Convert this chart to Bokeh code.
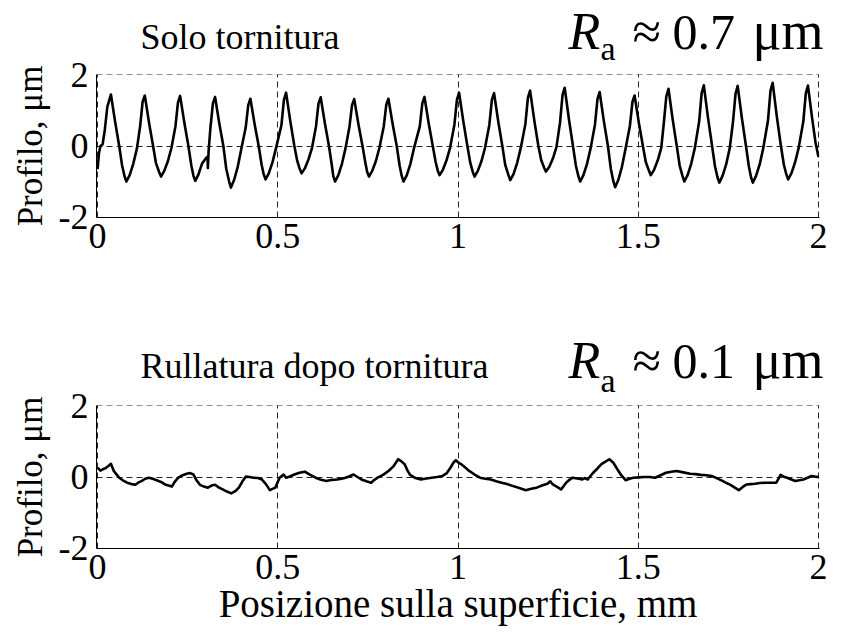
from bokeh.plotting import figure
from bokeh.layouts import column
from bokeh.models import Range1d, FixedTicker
from bokeh.core.properties import value
from bokeh.embed import file_html
from bokeh.resources import INLINE

# ---------------- data ----------------
x_ticks = [0, 0.5, 1, 1.5, 2]
x_tick_labels = ["0", "0.5", "1", "1.5", "2"]
y_ticks = [-2, 0, 2]
y_tick_labels = ["-2", "0", "2"]

titles = ["Solo tornitura", "Rullatura dopo tornitura"]
ra_values = ["0.7", "0.1"]
y_label = "Profilo, μm"
x_label = "Posizione sulla superficie, mm"

# profile after turning only (mm, um)
turn_x = [0.000, 0.004, 0.008, 0.014, 0.020, 0.027, 0.037,
          0.049, 0.060, 0.068, 0.075, 0.080, 0.089, 0.099, 0.109, 0.118, 0.125, 0.131,
          0.143, 0.154, 0.162, 0.171, 0.176, 0.185, 0.195, 0.205, 0.216, 0.223, 0.229,
          0.241, 0.252, 0.260, 0.266, 0.271, 0.280, 0.290, 0.300, 0.305, 0.306, 0.308, 0.313, 0.320, 0.326,
          0.338, 0.349, 0.357, 0.365, 0.370, 0.379, 0.389, 0.399, 0.411, 0.418, 0.424,
          0.436, 0.447, 0.455, 0.461, 0.466, 0.475, 0.485, 0.495, 0.510, 0.517, 0.523,
          0.535, 0.546, 0.554, 0.561, 0.566, 0.575, 0.585, 0.595, 0.606, 0.613, 0.619,
          0.631, 0.642, 0.650, 0.654, 0.659, 0.668, 0.678, 0.688, 0.699, 0.706, 0.712,
          0.724, 0.735, 0.743, 0.748, 0.753, 0.762, 0.772, 0.782, 0.794, 0.801, 0.807,
          0.819, 0.830, 0.838, 0.844, 0.849, 0.858, 0.868, 0.878, 0.894, 0.901, 0.907,
          0.919, 0.930, 0.938, 0.944, 0.949, 0.958, 0.968, 0.978, 0.990, 0.997, 1.003,
          1.015, 1.026, 1.034, 1.041, 1.046, 1.055, 1.065, 1.075, 1.087, 1.094, 1.100,
          1.112, 1.123, 1.131, 1.140, 1.145, 1.154, 1.164, 1.174, 1.187, 1.194, 1.200,
          1.212, 1.223, 1.231, 1.239, 1.244, 1.253, 1.263, 1.273, 1.283, 1.290, 1.296,
          1.308, 1.319, 1.327, 1.334, 1.339, 1.348, 1.358, 1.368, 1.380, 1.387, 1.393,
          1.405, 1.416, 1.424, 1.431, 1.436, 1.445, 1.455, 1.465, 1.477, 1.484, 1.490,
          1.502, 1.513, 1.521, 1.530, 1.535, 1.544, 1.554, 1.564, 1.571, 1.578, 1.584,
          1.596, 1.607, 1.615, 1.623, 1.628, 1.637, 1.647, 1.657, 1.669, 1.676, 1.682,
          1.694, 1.705, 1.713, 1.720, 1.725, 1.734, 1.744, 1.754, 1.763, 1.770, 1.776,
          1.788, 1.799, 1.807, 1.813, 1.818, 1.827, 1.837, 1.847, 1.860, 1.867, 1.873,
          1.885, 1.896, 1.904, 1.911, 1.916, 1.925, 1.935, 1.945, 1.958, 1.965, 1.971,
          1.983, 1.992, 2.000]
turn_y = [-0.65, -0.20, 0.00, 0.05, 0.45, 1.10, 1.45,
          0.66, 0.00, -0.55, -0.86, -1.00, -0.82, -0.50, -0.08, 0.55, 1.25, 1.42,
          0.64, 0.00, -0.48, -0.74, -0.86, -0.70, -0.43, -0.05, 0.55, 1.22, 1.41,
          0.64, 0.00, -0.54, -0.84, -0.98, -0.80, -0.49, -0.35, -0.30, -0.62, -0.15, 0.50, 1.20, 1.38,
          0.62, 0.00, -0.64, -1.00, -1.17, -0.95, -0.58, -0.07, 0.52, 1.15, 1.33,
          0.60, 0.00, -0.52, -0.80, -0.94, -0.77, -0.47, -0.06, 0.58, 1.30, 1.50,
          0.68, 0.00, -0.42, -0.65, -0.77, -0.63, -0.38, -0.05, 0.55, 1.20, 1.37,
          0.62, 0.00, -0.55, -0.85, -1.00, -0.82, -0.50, -0.06, 0.55, 1.15, 1.32,
          0.60, 0.00, -0.47, -0.73, -0.86, -0.70, -0.43, -0.05, 0.55, 1.16, 1.33,
          0.60, 0.00, -0.55, -0.85, -1.00, -0.82, -0.50, -0.06, 0.55, 1.20, 1.38,
          0.62, 0.00, -0.45, -0.70, -0.82, -0.67, -0.41, -0.05, 0.60, 1.30, 1.50,
          0.68, 0.00, -0.47, -0.73, -0.86, -0.70, -0.43, -0.05, 0.60, 1.30, 1.49,
          0.67, 0.00, -0.53, -0.82, -0.96, -0.79, -0.48, -0.06, 0.62, 1.36, 1.56,
          0.70, 0.00, -0.40, -0.61, -0.72, -0.59, -0.36, -0.04, 0.65, 1.43, 1.64,
          0.74, 0.00, -0.55, -0.85, -1.00, -0.82, -0.50, -0.06, 0.60, 1.32, 1.52,
          0.68, 0.00, -0.64, -0.99, -1.16, -0.95, -0.58, -0.07, 0.57, 1.24, 1.42,
          0.64, 0.00, -0.45, -0.70, -0.82, -0.67, -0.41, -0.05, 0.64, 1.40, 1.61,
          0.72, 0.00, -0.55, -0.85, -1.00, -0.82, -0.50, -0.06, 0.68, 1.49, 1.71,
          0.77, 0.00, -0.57, -0.88, -1.03, -0.84, -0.52, -0.06, 0.68, 1.47, 1.69,
          0.76, 0.00, -0.57, -0.88, -1.03, -0.84, -0.52, -0.06, 0.71, 1.55, 1.78,
          0.80, 0.00, -0.52, -0.80, -0.94, -0.77, -0.47, -0.06, 0.68, 1.48, 1.70,
          0.75, 0.10, -0.30]

# profile after rolling (mm, um)
roll_x = [0.000, 0.008, 0.015, 0.022, 0.030, 0.037, 0.045, 0.052, 0.060, 0.071,
          0.082, 0.094, 0.105, 0.114, 0.123, 0.132, 0.142, 0.153,
          0.164, 0.176, 0.187, 0.197, 0.206, 0.215, 0.224, 0.236, 0.247, 0.257, 0.266, 0.275,
          0.284, 0.295, 0.306, 0.316, 0.326, 0.337, 0.347, 0.359,
          0.371, 0.382, 0.392, 0.402, 0.411, 0.422, 0.433, 0.445, 0.456, 0.467, 0.478, 0.493,
          0.505, 0.516, 0.523, 0.535,
          0.546, 0.560, 0.575, 0.590, 0.605, 0.620, 0.635, 0.650, 0.665, 0.677, 0.688, 0.699,
          0.710, 0.721, 0.732, 0.746, 0.759, 0.768, 0.777, 0.792,
          0.807, 0.821, 0.834, 0.843, 0.852, 0.860, 0.867, 0.882, 0.897, 0.912, 0.927, 0.942,
          0.957, 0.968, 0.979, 0.987, 0.994, 1.002, 1.009, 1.020,
          1.031, 1.046, 1.061, 1.076, 1.091, 1.106, 1.121, 1.136, 1.151, 1.170, 1.188, 1.203,
          1.218, 1.233, 1.248, 1.256, 1.263, 1.275, 1.286,
          1.300, 1.309, 1.318, 1.331, 1.345, 1.352, 1.360, 1.367, 1.375, 1.387, 1.398, 1.409,
          1.420, 1.431, 1.442, 1.453, 1.465, 1.476, 1.487, 1.502,
          1.517, 1.532, 1.547, 1.562, 1.577, 1.592, 1.607, 1.625, 1.644, 1.659, 1.674, 1.689,
          1.704, 1.719, 1.734, 1.745, 1.756, 1.768, 1.779, 1.790,
          1.801, 1.812, 1.824, 1.838, 1.853, 1.868, 1.883, 1.889, 1.895, 1.904, 1.913, 1.925,
          1.936, 1.947, 1.958, 1.970, 1.981, 1.990, 2.000]
roll_y = [0.26, 0.18, 0.22, 0.25, 0.31, 0.37, 0.17, 0.08, -0.02, -0.10,
          -0.16, -0.20, -0.22, -0.15, -0.11, -0.05, -0.02, -0.05,
          -0.09, -0.14, -0.21, -0.24, -0.27, -0.12, -0.02, 0.05, 0.09, 0.11, 0.07, -0.10,
          -0.22, -0.27, -0.30, -0.24, -0.22, -0.30, -0.35, -0.41,
          -0.46, -0.40, -0.30, -0.12, 0.01, 0.00, -0.02, -0.03, -0.07, -0.20, -0.37, -0.30,
          -0.02, 0.07, -0.02, 0.02,
          0.07, 0.12, 0.15, 0.06, -0.02, -0.08, -0.11, -0.08, -0.07, -0.05, -0.02, 0.02,
          0.07, 0.00, -0.07, -0.12, -0.16, -0.08, -0.02, 0.06,
          0.17, 0.30, 0.50, 0.44, 0.36, 0.18, 0.06, -0.03, -0.07, -0.04, -0.02, 0.00,
          0.03, 0.10, 0.26, 0.40, 0.47, 0.40, 0.36, 0.27,
          0.17, 0.07, -0.02, -0.05, -0.07, -0.12, -0.16, -0.20, -0.25, -0.31, -0.37, -0.33,
          -0.30, -0.24, -0.19, -0.12, -0.21, -0.28, -0.35,
          -0.16, -0.08, -0.02, -0.04, -0.07, -0.03, -0.07, 0.02, 0.12, 0.24, 0.36, 0.43,
          0.50, 0.40, 0.22, 0.05, -0.09, -0.05, -0.02, -0.01,
          0.00, 0.00, -0.02, 0.05, 0.12, 0.15, 0.17, 0.13, 0.09, 0.08, 0.06, 0.05,
          0.03, -0.04, -0.11, -0.17, -0.22, -0.30, -0.37, -0.28,
          -0.21, -0.20, -0.19, -0.17, -0.16, -0.16, -0.16, -0.05, 0.06, 0.01, -0.02, -0.07,
          -0.11, -0.09, -0.07, -0.02, 0.03, 0.01, 0.00]

SERIF = "Liberation Serif"
PAD_X = 0.003
PAD_Y = 0.012
GAP = 26             # room above each plot frame, inside the panel figure
OVERLAP = 20         # header canvas reaches this far under the (transparent) panel
BASELINE_FIX = 0.33  # svg text sits this many ems below the requested baseline


def make_header(height, title, ra, base, sub_base):
    # header canvas whose frame starts at the plot frames' left edge (x = page pixel)
    h = figure(title=None, frame_width=750, frame_height=height,
               min_border_left=96, min_border_right=0, min_border_top=0, min_border_bottom=0,
               x_range=Range1d(96, 846), y_range=Range1d(0, height),
               output_backend="svg", toolbar_location=None)
    h.axis.visible = False
    h.grid.visible = False
    h.outline_line_color = None
    h.background_fill_color = None
    h.border_fill_color = None
    h.margin = (0, 0, -OVERLAP, 0)
    pieces_x = [140, 568, 600, 632, 672, 752]
    pieces_y = [base, base, sub_base, base, base, base]
    pieces_t = [title, "R", "a", "≈", ra, "μm"]
    sizes = [36, 52, 34, 52, 50, 54]
    styles = ["normal", "italic", "normal", "normal", "normal", "normal"]
    for xx, yy, tt, ss, st in zip(pieces_x, pieces_y, pieces_t, sizes, styles):
        h.text(x=[xx], y=[height - (yy - BASELINE_FIX * ss)], text=[tt],
               text_font=value(SERIF), text_font_size=value(f"{ss}px"),
               text_font_style=value(st), text_color="black",
               text_baseline="alphabetic", text_align="left")
    return h


def make_panel(xs, ys, bottom_border, with_xlabel):
    p = figure(title=None, frame_width=723, frame_height=143,
               min_border_left=96, min_border_right=27,
               min_border_top=GAP, min_border_bottom=bottom_border,
               x_range=Range1d(-PAD_X, 2 + PAD_X), y_range=Range1d(-2 - PAD_Y, 2 + PAD_Y),
               output_backend="svg", toolbar_location=None)
    p.outline_line_color = None
    p.background_fill_color = None
    p.border_fill_color = None

    p.xaxis.ticker = FixedTicker(ticks=x_ticks)
    p.yaxis.ticker = FixedTicker(ticks=y_ticks)
    p.xaxis.major_label_overrides = {t: l for t, l in zip(x_ticks, x_tick_labels)}
    p.yaxis.major_label_overrides = {t: l for t, l in zip(y_ticks, y_tick_labels)}
    for ax in (p.xaxis, p.yaxis):
        ax.major_tick_out = 0
        ax.major_tick_in = 0
        ax.minor_tick_line_color = None
        ax.axis_line_color = "black"
        ax.axis_line_width = 1
        ax.major_label_text_font = SERIF
        ax.major_label_text_font_size = "36px"
        ax.major_label_text_color = "black"
        ax.axis_label_text_font = SERIF
        ax.axis_label_text_font_style = "normal"
        ax.axis_label_text_color = "black"
    p.xaxis.major_label_standoff = 6
    p.yaxis.major_label_standoff = 8
    p.yaxis.axis_label = y_label
    p.yaxis.axis_label_text_font_size = "35px"
    p.yaxis.axis_label_standoff = 6
    if with_xlabel:
        p.xaxis.axis_label = x_label
        p.xaxis.axis_label_text_font_size = "39px"
        p.xaxis.axis_label_standoff = 0

    for g in (p.xgrid, p.ygrid):
        g.grid_line_color = "black"
        g.grid_line_alpha = 0.85
        g.grid_line_width = 1
        g.grid_line_dash = "6 4"
    p.xgrid.ticker = FixedTicker(ticks=x_ticks)
    p.ygrid.ticker = FixedTicker(ticks=y_ticks)

    p.line(xs, ys, line_color="black", line_width=2.6, line_join="round")
    return p


# header 1 covers page y 0..68, panel 1 starts at 48 (frame top 74)
head1 = make_header(74 - GAP + OVERLAP, titles[0], ra_values[0], 48, 59)
top = make_panel(turn_x, turn_y, 83, False)
# header 2 covers page y 300..399, panel 2 starts at 379 (frame top 405)
head2 = make_header(105 - GAP + OVERLAP, titles[1], ra_values[1], 77, 91)
bottom = make_panel(roll_x, roll_y, 87, True)

layout = column(head1, top, head2, bottom, spacing=0)
open("out.html", "w").write(file_html(layout, INLINE))
